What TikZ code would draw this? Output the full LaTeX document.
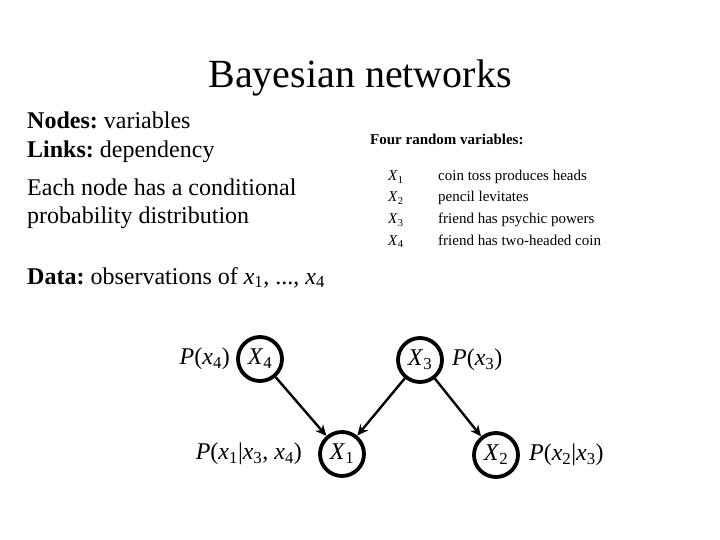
\documentclass[tikz,border=0pt]{standalone}
\usepackage{fontspec}
\setmainfont{Liberation Serif}
\usetikzlibrary{arrows.meta}
\frenchspacing
\newcommand{\vsub}[2]{\textit{#1}\textsubscript{#2}}
\begin{document}
\begin{tikzpicture}[x=1pt,y=-1pt,
  var/.style={circle,draw,line width=3.8pt,minimum size=44pt,inner sep=0pt,font=\fontsize{24}{28}\selectfont},
  lab/.style={inner sep=0pt,font=\fontsize{24}{28}\selectfont},
  edge/.style={line width=2.4pt,-{Stealth[length=11pt,width=10pt]}},
  txt/.style={anchor=base west,inner sep=0pt,font=\fontsize{24}{28}\selectfont},
  small/.style={anchor=base west,inner sep=0pt,font=\fontsize{15}{17}\selectfont}]
\useasboundingbox (0,0) rectangle (720,540);
\node[anchor=base,inner sep=0pt,font=\fontsize{40}{46}\selectfont] (title) at (360,88) {Bayesian networks};
\node[txt] (t1) at (27,129) {\textbf{Nodes:} variables};
\node[txt] (t2) at (27,158) {\textbf{Links:} dependency};
\node[txt] (t3) at (27,196) {Each node has a conditional};
\node[txt] (t4) at (27,224) {probability distribution};
\node[txt] (t5) at (27,284) {\textbf{Data:} observations of \vsub{x}{1}, ..., \vsub{x}{4}};
\node[small,font=\fontsize{15}{17}\bfseries] (four) at (370,145) {Four random variables:};
\node[small] (r1) at (388,181) {\vsub{X}{1}};
\node[small] (r2) at (388,202) {\vsub{X}{2}};
\node[small] (r3) at (388,224) {\vsub{X}{3}};
\node[small] (r4) at (388,245) {\vsub{X}{4}};
\node[small] (d1) at (438,181) {coin toss produces heads};
\node[small] (d2) at (438,202) {pencil levitates};
\node[small] (d3) at (438,224) {friend has psychic powers};
\node[small] (d4) at (438,245) {friend has two-headed coin};
\node[var] (X4) at (260,359) {\vsub{X}{4}};
\node[var] (X3) at (420,360) {\vsub{X}{3}};
\node[var] (X1) at (342,454) {\vsub{X}{1}};
\node[var] (X2) at (496,455) {\vsub{X}{2}};
\node[lab,anchor=east] (p4) at ([xshift=-6pt]X4.west) {\textit{P}(\vsub{x}{4})};
\node[lab,anchor=west] (p3) at ([xshift=8pt]X3.east) {\textit{P}(\vsub{x}{3})};
\node[lab,anchor=east] (p1) at ([xshift=-16pt]X1.west) {\textit{P}(\vsub{x}{1}|\vsub{x}{3}, \vsub{x}{4})};
\node[lab,anchor=west] (p2) at ([xshift=9pt]X2.east) {\textit{P}(\vsub{x}{2}|\vsub{x}{3})};
\draw[edge] (X4) -- (X1);
\draw[edge] (X3) -- (X1);
\draw[edge] (X3) -- (X2);
\end{tikzpicture}
\end{document}
